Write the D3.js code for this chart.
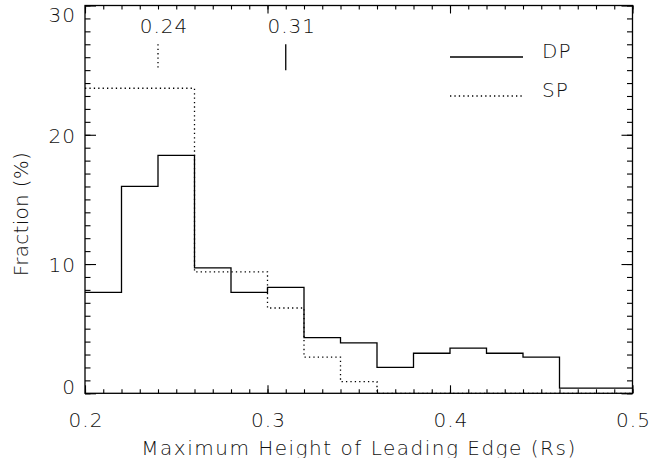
<!DOCTYPE html>
<html><head><meta charset="utf-8">
<script src="https://cdn.jsdelivr.net/npm/d3@7"></script>
<style>
html,body{margin:0;padding:0;background:#fff;}
svg text{font-family:"DejaVu Sans",sans-serif;font-weight:200;fill:#111;}
</style></head>
<body>
<svg id="c" width="667" height="458"></svg>
<script>
// ---- data ----
const binEdges = [0.20,0.22,0.24,0.26,0.28,0.30,0.32,0.34,0.36,0.38,0.40,0.42,0.44,0.46,0.48,0.50];
const dpValues = [7.8,16.0,18.4,9.7,7.8,8.2,4.3,3.9,2.0,3.1,3.5,3.1,2.8,0.4,0.4];
const spValues = [23.6,23.6,23.6,9.4,9.4,6.6,2.8,0.9,0,0,0,0,0,0,0];
const xTickLabels = [0.2,0.3,0.4,0.5];
const yTickLabels = [0,10,20,30];
const seriesNames = ["DP","SP"];
const markerValues = [0.24,0.31];   // SP median, DP median
const markerLabels = ["0.24","0.31"];

// ---- layout ----
const svg = d3.select("#c");
const L = 85, R = 632.5, T = 5.5, B = 393.3;
const x = d3.scaleLinear().domain([0.2,0.5]).range([L,R]);
const y = d3.scaleLinear().domain([0,30]).range([B,T]);

// ---- histogram steps ----
function stepPts(vals){
  const pts = vals.map((v,i)=>[binEdges[i],v]);
  pts.push([binEdges[binEdges.length-1], vals[vals.length-1]]);
  return pts;
}
const line = d3.line().x(d=>x(d[0])).y(d=>y(d[1])).curve(d3.curveStepAfter);
const dash = "1.3,3.1";
svg.append("path").attr("d",line(stepPts(spValues)))
  .attr("fill","none").attr("stroke","#000").attr("stroke-width",1.3).attr("stroke-dasharray",dash);
svg.append("path").attr("d",line(stepPts(dpValues)))
  .attr("fill","none").attr("stroke","#000").attr("stroke-width",1.3);

// ---- axes ----
const minorX = d3.range(0.2,0.5001,0.01);
const minorY = d3.range(0,30.001,1);
function axisG(axis, tr){
  const g = svg.append("g").attr("transform",tr).call(axis);
  g.select(".domain").remove();
  g.selectAll("line").attr("stroke","#000").attr("stroke-width",1.1);
  return g;
}
// minor
axisG(d3.axisBottom(x).tickValues(minorX).tickSize(-4).tickFormat(""), `translate(0,${B})`);
axisG(d3.axisTop(x).tickValues(minorX).tickSize(-4).tickFormat(""), `translate(0,${T})`);
axisG(d3.axisLeft(y).tickValues(minorY).tickSize(-5.5).tickFormat(""), `translate(${L},0)`);
axisG(d3.axisRight(y).tickValues(minorY).tickSize(-5.5).tickFormat(""), `translate(${R},0)`);
// major
const xb = axisG(d3.axisBottom(x).tickValues(xTickLabels).tickSize(-8).tickFormat(d3.format(".1f")), `translate(0,${B})`);
xb.selectAll("text").attr("y",34).attr("dy",0).attr("font-size",20).style("font-family",null)
  .attr("letter-spacing",1).attr("dx",0.5);
axisG(d3.axisTop(x).tickValues(xTickLabels).tickSize(-8).tickFormat(""), `translate(0,${T})`);
const yl = axisG(d3.axisLeft(y).tickValues(yTickLabels).tickSize(-11).tickFormat(d3.format("d")), `translate(${L},0)`);
yl.selectAll("text").attr("x",-9).attr("font-size",20).style("font-family",null)
  .attr("letter-spacing",1)
  .attr("dy",d=> d===0 ? "0" : (d===30 ? "15.5" : "7.3"));
axisG(d3.axisRight(y).tickValues(yTickLabels).tickSize(-11).tickFormat(""), `translate(${R},0)`);
svg.selectAll(".tick text").attr("fill","#111");

// frame
svg.append("rect").attr("x",L).attr("y",T).attr("width",R-L).attr("height",B-T)
  .attr("fill","none").attr("stroke","#000").attr("stroke-width",1.3);

// ---- markers ----
const mStyle = [dash, null];
markerValues.forEach((v,i)=>{
  svg.append("line").attr("x1",x(v)).attr("x2",x(v)).attr("y1",y(27)).attr("y2",y(25))
    .attr("stroke","#000").attr("stroke-width",1.3).attr("stroke-dasharray",mStyle[i]);
  svg.append("text").attr("x",x(v)+6).attr("y",33).attr("text-anchor","middle")
    .attr("font-size",20).attr("letter-spacing",1).text(markerLabels[i]);
});

// ---- legend ----
const legY = [57,96];
seriesNames.forEach((n,i)=>{
  svg.append("line").attr("x1",450).attr("x2",523).attr("y1",legY[i]).attr("y2",legY[i])
    .attr("stroke","#000").attr("stroke-width",1.3).attr("stroke-dasharray",i===1?dash:null);
  svg.append("text").attr("x",542).attr("y",legY[i]+1).attr("font-size",20).attr("letter-spacing",1).text(n);
});

// ---- titles ----
svg.append("text").attr("x",359).attr("y",455).attr("text-anchor","middle")
  .attr("font-size",20).attr("letter-spacing",1.5).text("Maximum Height of Leading Edge (Rs)");
svg.append("text").attr("transform","translate(28,214) rotate(-90)").attr("text-anchor","middle")
  .attr("font-size",20).attr("letter-spacing",0.3).text("Fraction (%)");
</script>
</body></html>
